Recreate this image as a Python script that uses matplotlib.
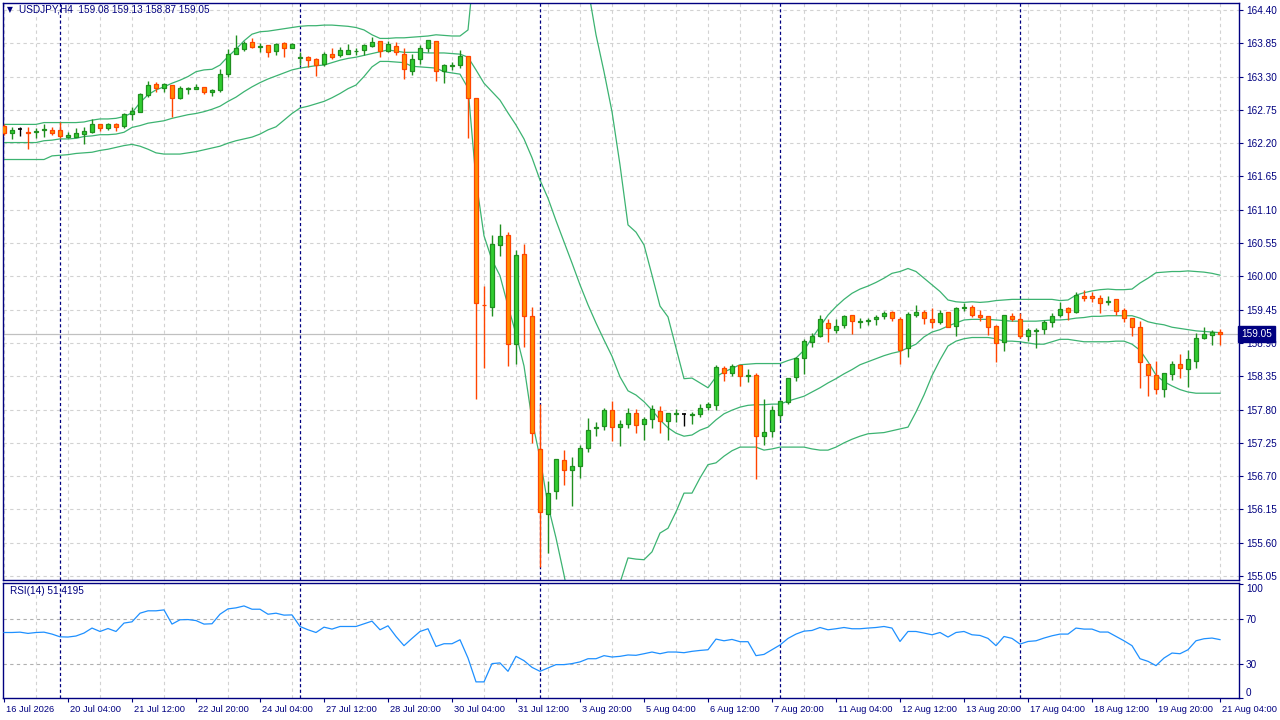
import numpy as np
import matplotlib
matplotlib.use("Agg")
import matplotlib.pyplot as plt
import matplotlib.transforms as mtransforms

plt.rcParams['font.family'] = ['Liberation Sans', 'DejaVu Sans']

# USDJPY H4 candles, bar 0 = 16 Jul 2026 20:00
open_ = [162.48, 162.36, 162.43, 162.39, 162.38, 162.41, 162.41, 162.41, 162.31, 162.30,
         162.35, 162.39, 162.51, 162.45, 162.51, 162.49, 162.68, 162.72, 162.99, 163.17,
         163.11, 163.16, 162.95, 163.09, 163.10, 163.12, 163.04, 163.07, 163.34, 163.67,
         163.75, 163.87, 163.79, 163.82, 163.73, 163.86, 163.78, 163.60, 163.62, 163.59,
         163.51, 163.67, 163.65, 163.68, 163.72, 163.74, 163.81, 163.88, 163.73, 163.80,
         163.68, 163.40, 163.59, 163.78, 163.88, 163.39, 163.47, 163.49, 163.64, 162.94,
         159.53, 159.50, 160.51, 160.68, 158.88, 160.37, 159.35, 157.15, 156.08, 156.45,
         156.96, 156.81, 156.86, 157.17, 157.49, 157.53, 157.79, 157.51, 157.56, 157.74,
         157.56, 157.64, 157.78, 157.61, 157.72, 157.73, 157.71, 157.73, 157.84, 157.87,
         158.48, 158.41, 158.53, 158.35, 158.37, 157.37, 157.44, 157.71, 157.93, 158.33,
         158.65, 158.91, 159.02, 159.23, 159.12, 159.19, 159.36, 159.24, 159.26, 159.29,
         159.34, 159.41, 159.30, 158.81, 159.36, 159.41, 159.30, 159.24, 159.41, 159.18,
         159.47, 159.49, 159.36, 159.34, 159.18, 158.91, 159.34, 159.29, 159.01, 159.09,
         159.13, 159.24, 159.36, 159.47, 159.41, 159.67, 159.68, 159.64, 159.57, 159.62,
         159.44, 159.31, 159.16, 158.56, 158.37, 158.14, 158.38, 158.56, 158.47, 158.61,
         158.98, 159.03, 159.08]
high = [162.51, 162.46, 162.47, 162.46, 162.45, 162.51, 162.46, 162.55, 162.39, 162.45,
        162.46, 162.60, 162.51, 162.53, 162.53, 162.70, 162.79, 163.03, 163.22, 163.21,
        163.20, 163.16, 163.14, 163.12, 163.17, 163.12, 163.10, 163.43, 163.75, 163.99,
        163.88, 163.93, 163.86, 163.82, 163.86, 163.87, 163.86, 163.71, 163.64, 163.60,
        163.70, 163.77, 163.79, 163.84, 163.78, 163.83, 163.95, 163.88, 163.88, 163.87,
        163.77, 163.68, 163.82, 163.90, 163.89, 163.50, 163.54, 163.74, 163.64, 162.95,
        159.84, 160.68, 160.86, 160.74, 160.44, 160.54, 159.49, 157.89, 156.62, 156.98,
        157.13, 157.01, 157.22, 157.66, 157.59, 157.83, 157.94, 157.62, 157.82, 157.81,
        157.68, 157.88, 157.86, 157.74, 157.81, 157.75, 157.76, 157.90, 157.93, 158.54,
        158.52, 158.55, 158.53, 158.47, 158.40, 157.98, 157.86, 157.96, 158.32, 158.67,
        158.96, 159.06, 159.36, 159.29, 159.30, 159.36, 159.37, 159.31, 159.31, 159.36,
        159.43, 159.43, 159.33, 159.41, 159.53, 159.45, 159.47, 159.45, 159.41, 159.49,
        159.56, 159.53, 159.45, 159.34, 159.19, 159.36, 159.39, 159.39, 159.15, 159.15,
        159.28, 159.39, 159.58, 159.50, 159.74, 159.77, 159.74, 159.70, 159.67, 159.62,
        159.48, 159.31, 159.26, 158.56, 158.60, 158.40, 158.61, 158.71, 158.78, 159.07,
        159.16, 159.11, 159.13]
low = [162.34, 162.27, 162.32, 162.11, 162.29, 162.31, 162.34, 162.29, 162.28, 162.30,
       162.19, 162.37, 162.40, 162.42, 162.40, 162.45, 162.58, 162.71, 162.96, 163.05,
       163.05, 162.63, 162.93, 163.01, 163.10, 163.01, 162.98, 163.05, 163.29, 163.67,
       163.73, 163.78, 163.71, 163.63, 163.66, 163.63, 163.78, 163.49, 163.45, 163.31,
       163.48, 163.59, 163.63, 163.67, 163.66, 163.66, 163.79, 163.63, 163.70, 163.65,
       163.26, 163.32, 163.50, 163.71, 163.22, 163.20, 163.41, 163.44, 162.29, 157.97,
       158.49, 159.35, 160.34, 158.52, 158.56, 158.84, 157.24, 155.20, 155.43, 156.32,
       156.55, 156.21, 156.67, 157.10, 157.37, 157.46, 157.28, 157.19, 157.49, 157.42,
       157.29, 157.50, 157.41, 157.29, 157.60, 157.53, 157.56, 157.68, 157.79, 157.79,
       158.28, 158.36, 158.19, 158.26, 156.66, 157.22, 157.35, 157.62, 157.90, 158.28,
       158.39, 158.84, 159.00, 158.91, 159.06, 159.14, 159.04, 159.15, 159.19, 159.19,
       159.29, 159.27, 158.55, 158.67, 159.33, 159.22, 159.15, 159.21, 159.16, 159.01,
       159.43, 159.33, 159.27, 159.03, 158.58, 158.77, 159.26, 158.98, 158.94, 158.82,
       159.05, 159.17, 159.33, 159.28, 159.39, 159.60, 159.57, 159.40, 159.52, 159.36,
       159.24, 159.02, 158.15, 158.03, 158.06, 158.01, 158.29, 158.32, 158.18, 158.48,
       158.96, 158.86, 158.87]
close = [162.37, 162.41, 162.43, 162.37, 162.40, 162.43, 162.36, 162.32, 162.34, 162.36,
         162.40, 162.51, 162.45, 162.52, 162.47, 162.68, 162.73, 163.01, 163.16, 163.11,
         163.17, 162.95, 163.11, 163.11, 163.13, 163.05, 163.07, 163.34, 163.67, 163.77,
         163.85, 163.79, 163.81, 163.71, 163.84, 163.78, 163.84, 163.62, 163.57, 163.49,
         163.68, 163.63, 163.74, 163.74, 163.73, 163.82, 163.87, 163.73, 163.84, 163.70,
         163.42, 163.59, 163.78, 163.90, 163.39, 163.49, 163.49, 163.64, 162.95, 159.56,
         159.52, 160.54, 160.67, 158.88, 160.35, 159.35, 157.41, 156.10, 156.43, 156.98,
         156.80, 156.86, 157.16, 157.47, 157.52, 157.79, 157.51, 157.56, 157.74, 157.54,
         157.64, 157.81, 157.61, 157.74, 157.74, 157.73, 157.73, 157.82, 157.89, 158.50,
         158.40, 158.52, 158.36, 158.37, 157.36, 157.43, 157.79, 157.94, 158.32, 158.65,
         158.93, 159.01, 159.29, 159.14, 159.18, 159.34, 159.26, 159.26, 159.28, 159.33,
         159.39, 159.31, 158.79, 159.38, 159.41, 159.31, 159.24, 159.40, 159.16, 159.48,
         159.49, 159.36, 159.33, 159.16, 158.90, 159.36, 159.30, 159.01, 159.11, 159.11,
         159.24, 159.34, 159.46, 159.41, 159.69, 159.65, 159.65, 159.56, 159.59, 159.43,
         159.31, 159.16, 158.58, 158.37, 158.14, 158.40, 158.55, 158.48, 158.63, 158.98,
         159.04, 159.08, 159.05]

# Bollinger Bands (20, 2); values outside the window are clipped
bb_upper = [162.51, 162.51, 162.51, 162.51, 162.51, 162.54, 162.54, 162.54, 162.54, 162.54,
            162.55, 162.58, 162.60, 162.60, 162.61, 162.64, 162.70, 162.87, 163.00, 163.08,
            163.13, 163.19, 163.24, 163.30, 163.38, 163.41, 163.42, 163.49, 163.63, 163.75,
            163.89, 164.00, 164.04, 164.05, 164.07, 164.09, 164.11, 164.13, 164.14, 164.14,
            164.15, 164.15, 164.14, 164.13, 164.11, 164.07, 163.99, 163.93, 163.93, 163.94,
            163.94, 163.95, 163.96, 163.97, 163.99, 163.98, 163.97, 163.97, 164.07, 165.40,
            166.20, 166.40, 166.50, 166.90, 166.90, 167.00, 167.30, 167.50, 167.40, 167.20,
            166.80, 166.30, 165.60, 164.76, 163.99, 163.38, 162.72, 161.84, 160.85, 160.73,
            160.52, 160.02, 159.51, 159.33, 158.82, 158.31, 158.32, 158.24, 158.16, 158.34,
            158.42, 158.48, 158.54, 158.55, 158.56, 158.56, 158.56, 158.56, 158.61, 158.65,
            158.78, 158.98, 159.17, 159.36, 159.50, 159.62, 159.72, 159.79, 159.84, 159.90,
            159.97, 160.05, 160.08, 160.13, 160.08, 159.97, 159.86, 159.75, 159.61, 159.58,
            159.57, 159.58, 159.57, 159.58, 159.60, 159.61, 159.62, 159.62, 159.62, 159.62,
            159.62, 159.62, 159.60, 159.61, 159.69, 159.73, 159.76, 159.78, 159.79, 159.78,
            159.78, 159.79, 159.89, 159.97, 160.06, 160.07, 160.08, 160.08, 160.09, 160.08,
            160.07, 160.05, 160.02]
bb_middle = [162.21, 162.21, 162.21, 162.21, 162.21, 162.24, 162.25, 162.27, 162.27, 162.28,
             162.31, 162.32, 162.34, 162.34, 162.35, 162.38, 162.46, 162.49, 162.53, 162.55,
             162.57, 162.61, 162.64, 162.67, 162.69, 162.72, 162.76, 162.81, 162.89, 162.96,
             163.05, 163.13, 163.20, 163.26, 163.31, 163.36, 163.41, 163.44, 163.46, 163.48,
             163.49, 163.53, 163.57, 163.60, 163.62, 163.65, 163.68, 163.71, 163.74, 163.72,
             163.70, 163.70, 163.70, 163.69, 163.69, 163.69, 163.68, 163.67, 163.62, 163.41,
             163.19, 163.05, 162.91, 162.70, 162.50, 162.27, 161.96, 161.59, 161.29, 160.92,
             160.57, 160.22, 159.86, 159.53, 159.23, 158.95, 158.68, 158.34, 158.11, 158.04,
             157.93, 157.79, 157.63, 157.50, 157.41, 157.36, 157.38, 157.46, 157.51, 157.63,
             157.73, 157.79, 157.84, 157.87, 157.88, 157.88, 157.89, 157.89, 157.94, 157.98,
             158.02, 158.09, 158.16, 158.24, 158.31, 158.39, 158.46, 158.54, 158.59, 158.64,
             158.69, 158.73, 158.76, 158.82, 158.88, 159.00, 159.08, 159.12, 159.18, 159.23,
             159.28, 159.29, 159.29, 159.29, 159.28, 159.27, 159.26, 159.26, 159.26, 159.26,
             159.27, 159.28, 159.28, 159.29, 159.31, 159.32, 159.34, 159.34, 159.35, 159.35,
             159.35, 159.35, 159.31, 159.25, 159.22, 159.20, 159.16, 159.14, 159.12, 159.10,
             159.09, 159.08, 159.07]
bb_lower = [161.93, 161.93, 161.93, 161.93, 161.93, 161.93, 161.99, 162.00, 162.01, 162.03,
            162.04, 162.05, 162.08, 162.10, 162.13, 162.16, 162.18, 162.15, 162.10, 162.04,
            162.02, 162.02, 162.02, 162.04, 162.06, 162.09, 162.12, 162.15, 162.20, 162.24,
            162.27, 162.30, 162.35, 162.42, 162.47, 162.58, 162.69, 162.78, 162.81, 162.85,
            162.89, 162.95, 163.02, 163.10, 163.16, 163.30, 163.46, 163.55, 163.55, 163.54,
            163.53, 163.47, 163.46, 163.45, 163.44, 163.38, 163.36, 163.34, 163.11, 161.59,
            160.67, 160.27, 160.01, 159.51, 159.05, 158.52, 157.63, 157.00, 156.22, 155.68,
            155.07, 154.41, 154.10, 153.90, 153.85, 153.90, 154.10, 154.94, 155.35, 155.33,
            155.32, 155.45, 155.76, 155.84, 156.11, 156.42, 156.42, 156.67, 156.89, 156.92,
            157.03, 157.12, 157.18, 157.18, 157.18, 157.13, 157.15, 157.18, 157.18, 157.18,
            157.18, 157.15, 157.13, 157.13, 157.18, 157.25, 157.31, 157.36, 157.40, 157.41,
            157.42, 157.45, 157.48, 157.51, 157.76, 158.04, 158.36, 158.62, 158.85, 158.93,
            158.97, 158.99, 158.99, 158.99, 158.97, 158.93, 158.93, 158.92, 158.90, 158.88,
            158.88, 158.92, 158.96, 158.96, 158.94, 158.92, 158.92, 158.92, 158.92, 158.93,
            158.93, 158.88, 158.78, 158.59, 158.37, 158.26, 158.19, 158.13, 158.09, 158.07,
            158.07, 158.07, 158.07]

# RSI(14)
rsi = [57.7, 57.7, 58.0, 56.9, 57.7, 58.0, 56.3, 53.9, 53.7, 54.6,
       57.2, 61.6, 58.6, 61.2, 58.6, 66.0, 67.1, 74.7, 76.8, 76.8,
       77.6, 65.1, 68.9, 69.1, 68.2, 65.1, 65.4, 73.8, 78.5, 79.4,
       81.1, 78.2, 78.2, 73.8, 74.7, 73.0, 73.2, 63.0, 60.1, 57.7,
       62.4, 60.7, 63.0, 63.0, 63.0, 65.4, 67.7, 60.1, 63.6, 54.2,
       46.1, 52.5, 58.6, 61.0, 45.4, 47.8, 47.8, 51.3, 35.2, 14.2,
       14.2, 30.3, 30.9, 23.5, 36.7, 32.9, 27.0, 23.5, 26.5, 29.4,
       29.4, 30.3, 31.8, 34.6, 34.6, 37.3, 36.1, 36.7, 37.9, 37.6,
       39.0, 40.5, 39.0, 40.5, 40.5, 39.9, 41.1, 41.9, 42.5, 51.9,
       50.4, 51.6, 49.6, 49.6, 37.3, 38.4, 42.5, 46.7, 52.5, 56.3,
       58.9, 59.5, 62.1, 60.1, 61.0, 62.1, 61.0, 61.0, 61.6, 62.1,
       63.0, 61.6, 49.8, 58.6, 58.6, 57.2, 55.7, 57.7, 53.7, 57.7,
       58.6, 55.7, 55.1, 52.5, 46.1, 54.2, 52.5, 47.5, 49.8, 50.4,
       52.8, 54.8, 56.3, 56.3, 61.6, 60.7, 60.7, 58.1, 58.1, 54.2,
       50.4, 46.1, 34.6, 32.3, 28.5, 35.2, 39.6, 39.0, 42.5, 50.4,
       52.2, 52.8, 51.42]
rsi_label = "RSI(14) 51.4195"

date_labels = ["16 Jul 2026", "20 Jul 04:00", "21 Jul 12:00", "22 Jul 20:00", "24 Jul 04:00",
               "27 Jul 12:00", "28 Jul 20:00", "30 Jul 04:00", "31 Jul 12:00", "3 Aug 20:00",
               "5 Aug 04:00", "6 Aug 12:00", "7 Aug 20:00", "11 Aug 04:00", "12 Aug 12:00",
               "13 Aug 20:00", "17 Aug 04:00", "18 Aug 12:00", "19 Aug 20:00", "21 Aug 04:00"]
week_starts = [7, 37, 67, 97, 127]   # Monday 00:00 bars
price_ticks = [round(155.05 + 0.55 * k, 2) for k in range(18)]
symbol = "USDJPY,H4"

NAVY = "#000080"
GRID = "#d2d2d2"
BULL_FILL, BULL_EDGE = "#32cd32", "#1f8f1f"
BEAR_FILL, BEAR_EDGE = "#ff8c00", "#ff4500"
BAND = "#3cb371"

W, H = 1280, 720
def rect(x0, y0, x1, y1):
    return [x0 / W, 1 - y1 / H, (x1 - x0) / W, (y1 - y0) / H]

fig = plt.figure(figsize=(12.8, 7.2), dpi=100)
ax = fig.add_axes(rect(3, 3, 1239, 580))
axr = fig.add_axes(rect(3, 583, 1239, 698))

n = len(close)
x = np.arange(n)
o = np.array(open_); c = np.array(close); h = np.array(high); l = np.array(low)

for a in (ax, axr):
    a.set_xlim(-0.125, 154.375)
    for s in a.spines.values():
        s.set_color(NAVY)
        s.set_linewidth(1)
    a.set_xticks(np.arange(0, n, 4), minor=True)
    a.grid(True, which='minor', axis='x', color=GRID, linestyle=(0, (3, 3)), lw=0.8)
    a.tick_params(which='minor', length=0)
    for b in week_starts:
        a.axvline(b, color=NAVY, linestyle=(0, (2.5, 2)), lw=0.9, zorder=2)
    a.yaxis.tick_right()
    a.tick_params(axis='y', direction='out', length=3, color=NAVY, labelcolor=NAVY,
                  labelsize=7.2, pad=2)

# ---- main price panel
ax.set_ylim(154.985, 164.515)
ax.set_yticks(price_ticks)
ax.set_yticklabels([f"{v:.2f}" for v in price_ticks])
ax.grid(True, which='major', axis='y', color=GRID, linestyle=(0, (3, 3)), lw=0.8)
ax.tick_params(axis='x', which='both', bottom=False, labelbottom=False)
ax.set_xticks([])

ax.axhline(close[-1], color="#c0c0c0", lw=0.9, zorder=1)

ax.plot(x, bb_upper, color=BAND, lw=0.9, zorder=2)
ax.plot(x, bb_middle, color=BAND, lw=0.9, zorder=2)
ax.plot(x, bb_lower, color=BAND, lw=0.9, zorder=2)

bull = c > o
bear = c < o
doji = c == o

wick_col = np.where(bull, BULL_EDGE, np.where(bear, BEAR_EDGE, "black"))
ax.vlines(x, l, h, colors=wick_col, lw=1, zorder=3)

bw = 0.55
ax.bar(x[bull], (c - o)[bull], bottom=o[bull], width=bw, color=BULL_FILL,
       edgecolor=BULL_EDGE, lw=0.9, zorder=4)
ax.bar(x[bear], (o - c)[bear], bottom=c[bear], width=bw, color=BEAR_FILL,
       edgecolor=BEAR_EDGE, lw=0.9, zorder=4)
ax.hlines(c[doji], x[doji] - bw / 2, x[doji] + bw / 2, colors="black", lw=1.2, zorder=4)

# current price box on the scale
trans = mtransforms.blended_transform_factory(ax.transAxes, ax.transData)
ax.text(1.0015, close[-1], f"{close[-1]:.2f}", transform=trans, color="white",
        fontsize=7.2, ha='left', va='center', clip_on=False, zorder=10,
        bbox=dict(boxstyle='square,pad=0.3', fc=NAVY, ec=NAVY))

# header
fig.text(7 / W, 1 - 10 / H, "\u25bc", color=NAVY, fontsize=5.5, va='center', ha='left',
         family=['DejaVu Sans'])
fig.text(19 / W, 1 - 10 / H,
         f"{symbol}  {open_[-1]:.2f} {high[-1]:.2f} {low[-1]:.2f} {close[-1]:.2f}",
         color=NAVY, fontsize=7.2, va='center', ha='left')

# ---- RSI panel
axr.set_ylim(0.4, 101.3)
axr.plot(x, rsi, color="#1e90ff", lw=0.9, zorder=3)
for lvl in (70, 30):
    axr.axhline(lvl, color="#b0b0b0", linestyle=(0, (3, 3)), lw=0.8, zorder=1)
axr.set_yticks([0, 30, 70, 100])
axr.set_yticklabels(["0", "30", "70", "100"])
ylabs = axr.get_yticklabels()
ylabs[0].set_verticalalignment('bottom')
ylabs[3].set_verticalalignment('top')

axr.set_xticks(np.arange(0, n, 8))
axr.set_xticklabels(date_labels, ha='left')
axr.tick_params(axis='x', direction='out', length=3, color=NAVY, labelcolor=NAVY,
                labelsize=6.7, pad=2)
off = mtransforms.ScaledTranslation(1.5 / 100, 0, fig.dpi_scale_trans)
for t in axr.get_xticklabels():
    t.set_transform(t.get_transform() + off)

axr.text(7 / 1236, 1 - 8 / 115, rsi_label, transform=axr.transAxes, color=NAVY,
         fontsize=7.2, va='center', ha='left')

fig.savefig("out.png", dpi=100, facecolor="white")
